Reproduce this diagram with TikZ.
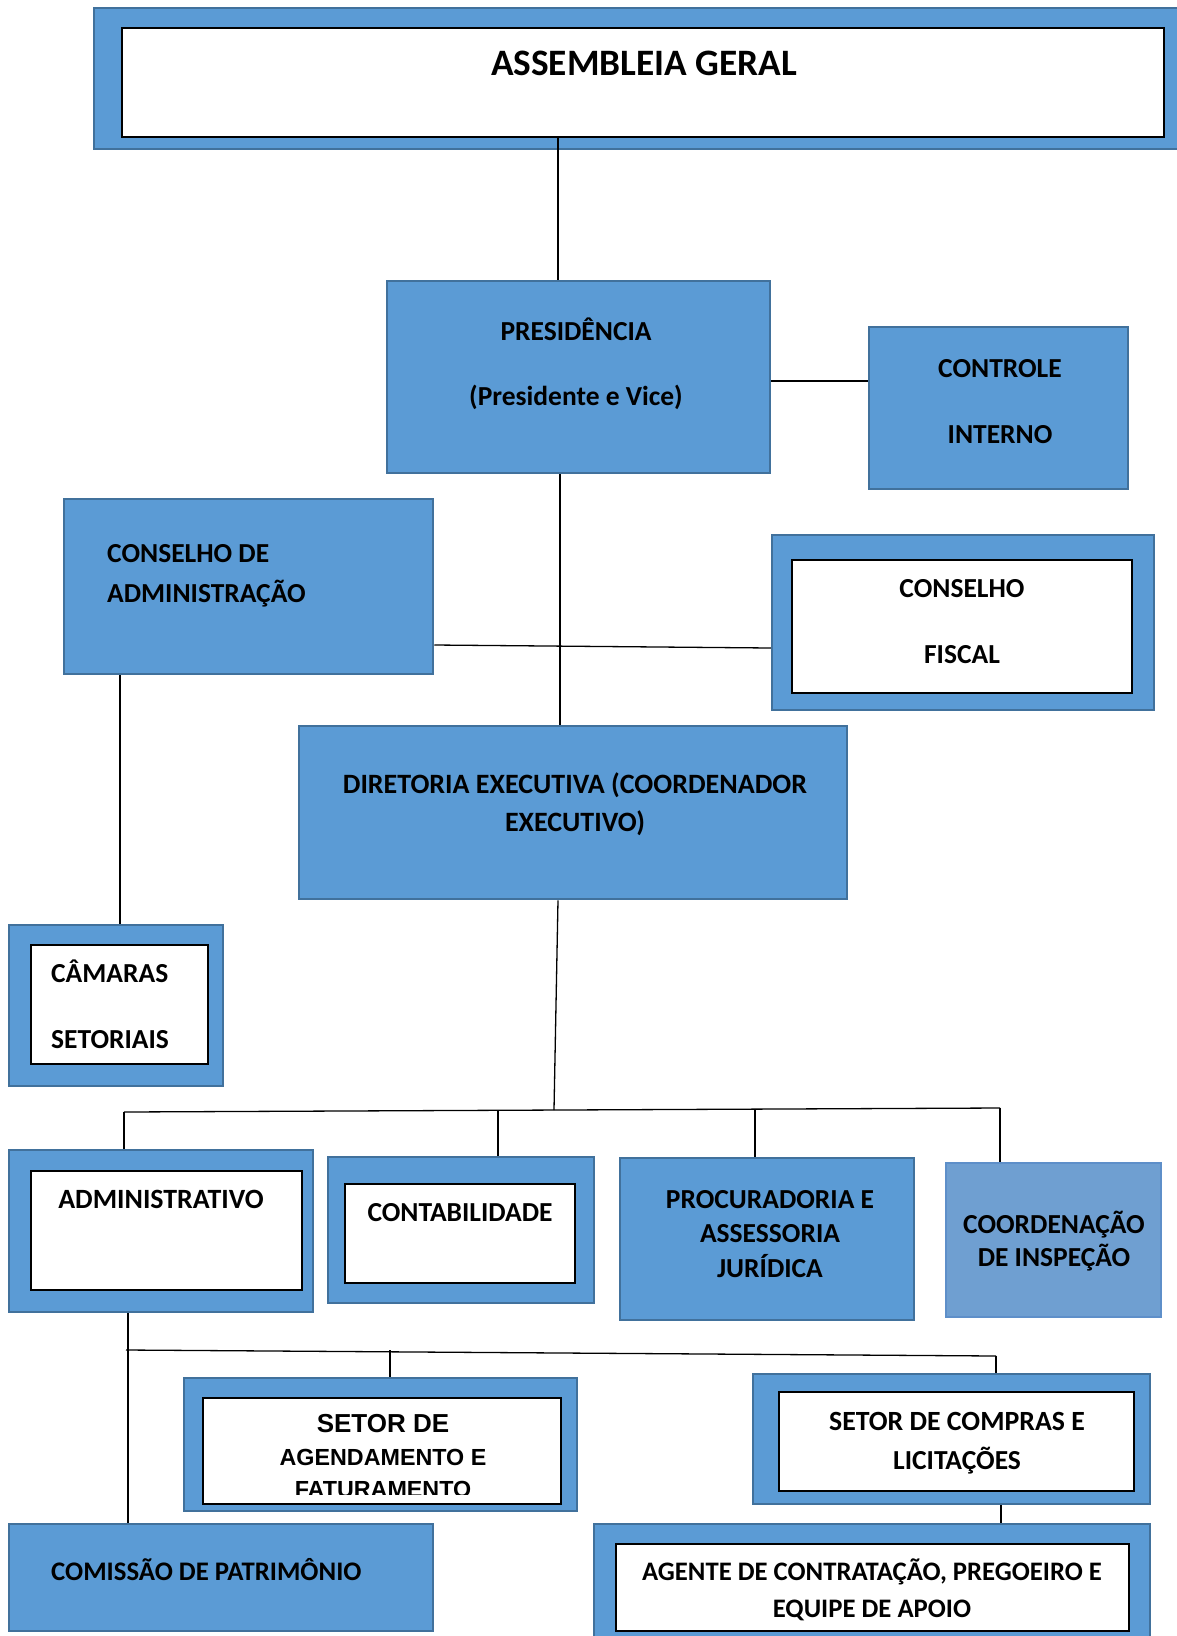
\documentclass[tikz,border=0pt]{standalone}
\usepackage{fontspec}
\setmainfont{Carlito}
\newfontfamily\arialfont{Liberation Sans}
\usetikzlibrary{fit}
\definecolor{boxblue}{HTML}{5B9BD5}
\definecolor{boxedge}{HTML}{41719C}
\definecolor{paleblue}{HTML}{6F9FD1}
\definecolor{paleedge}{HTML}{5E8FC9}
\tikzset{
  bluebox/.style={draw=boxedge, fill=boxblue, line width=2.5pt, inner sep=0pt, rectangle},
  palebox/.style={draw=paleedge, fill=paleblue, line width=1.5pt, inner sep=0pt, rectangle},
  whitebox/.style={draw=black, fill=white, line width=1.3pt, inner sep=0pt, rectangle},
  lbl/.style={font=\fontsize{27.5}{33}\selectfont\bfseries, inner sep=0pt, anchor=base},
  lbll/.style={lbl, anchor=base west},
  biglbl/.style={font=\fontsize{37.3}{44}\selectfont\bfseries, inner sep=0pt, anchor=base},
  arlbl/.style={font=\arialfont\bfseries\fontsize{23.3}{28}\selectfont, inner sep=0pt, anchor=base},
  conn/.style={draw=black, line width=1.3pt}
}
\begin{document}
\begin{tikzpicture}[x=1pt,y=-1pt]
\useasboundingbox (0,0) rectangle (1177,1636);
\clip (0,0) rectangle (1177,1636);

% ---------- boxes ----------
\node[bluebox, fit={(94,8) (1190,149)}] (ag) {};
\node[whitebox, fit={(122,28) (1164,137)}] (agin) {};

\node[bluebox, fit={(387,281) (770,473)}] (pres) {};
\node[bluebox, fit={(869,327) (1128,489)}] (ci) {};

\node[bluebox, fit={(64,499) (433,674)}] (ca) {};
\node[bluebox, fit={(772,535) (1154,710)}] (cf) {};
\node[whitebox, fit={(792,560) (1132,693)}] (cfin) {};

\node[bluebox, fit={(299,726) (847,899)}] (dir) {};

\node[bluebox, fit={(9,925) (223,1086)}] (cam) {};
\node[whitebox, fit={(31,945) (208,1064)}] (camin) {};

\node[bluebox, fit={(9,1150) (313,1312)}] (adm) {};
\node[whitebox, fit={(31,1171) (302,1290)}] (admin) {};

\node[bluebox, fit={(328,1157) (594,1303)}] (cont) {};
\node[whitebox, fit={(345,1184) (575,1283)}] (contin) {};

\node[bluebox, fit={(620,1158) (914,1320)}] (proc) {};
\node[palebox, fit={(946,1163) (1161,1317)}] (coord) {};

\node[bluebox, fit={(184,1378) (577,1511)}] (agend) {};
\node[whitebox, fit={(203,1398) (561,1504)}] (agendin) {};

\node[bluebox, fit={(753,1374) (1150,1504)}] (comp) {};
\node[whitebox, fit={(779,1392) (1134,1491)}] (compin) {};

\node[bluebox, fit={(9,1524) (433,1631)}] (com) {};

\node[bluebox, fit={(594,1524) (1150,1650)}] (agent) {};
\node[whitebox, fit={(616,1544) (1129,1631)}] (agentin) {};

% ---------- texts ----------
\node[biglbl] (t-ag) at (644,75) {ASSEMBLEIA GERAL};
\node[lbl] (t-pres1) at (576,340) {PRESIDÊNCIA};
\node[lbl] (t-pres2) at (576,405) {(Presidente e Vice)};
\node[lbl] (t-ci1) at (1000,377) {CONTROLE};
\node[lbl] (t-ci2) at (1000,443) {INTERNO};
\node[lbll] (t-ca1) at (107,562) {CONSELHO DE};
\node[lbll] (t-ca2) at (107,602) {ADMINISTRAÇÃO};
\node[lbl] (t-cf1) at (962,597) {CONSELHO};
\node[lbl] (t-cf2) at (962,663) {FISCAL};
\node[lbl, font=\fontsize{28}{33}\selectfont\bfseries] (t-dir1) at (575,793) {DIRETORIA EXECUTIVA (COORDENADOR};
\node[lbl, font=\fontsize{28}{33}\selectfont\bfseries] (t-dir2) at (575,831) {EXECUTIVO)};
\node[lbll] (t-cam1) at (51,982) {CÂMARAS};
\node[lbll] (t-cam2) at (51,1048) {SETORIAIS};
\node[lbl, font=\fontsize{27.9}{33}\selectfont\bfseries] (t-adm) at (161,1208) {ADMINISTRATIVO};
\node[lbl] (t-cont) at (460,1221) {CONTABILIDADE};
\node[lbl] (t-proc1) at (770,1208) {PROCURADORIA E};
\node[lbl] (t-proc2) at (770,1242) {ASSESSORIA};
\node[lbl] (t-proc3) at (770,1277) {JURÍDICA};
\node[lbl] (t-coord1) at (1054,1233) {COORDENAÇÃO};
\node[lbl] (t-coord2) at (1054,1266) {DE INSPEÇÃO};
\begin{scope}
  \clip (203,1398) rectangle (561,1494);
  \node[arlbl, font=\arialfont\bfseries\fontsize{26}{30}\selectfont] (t-agend1) at (383,1432) {SETOR DE};
  \node[arlbl] (t-agend2) at (383,1465) {AGENDAMENTO E};
  \node[arlbl] (t-agend3) at (383,1497) {FATURAMENTO};
\end{scope}
\node[lbl, font=\fontsize{27.8}{33}\selectfont\bfseries] (t-comp1) at (957,1430) {SETOR DE COMPRAS E};
\node[lbl] (t-comp2) at (957,1469) {LICITAÇÕES};
\node[lbll, font=\fontsize{26.8}{33}\selectfont\bfseries] (t-com) at (51,1580) {COMISSÃO DE PATRIMÔNIO};
\node[lbl, font=\fontsize{26.7}{33}\selectfont\bfseries] (t-agent1) at (872,1580) {AGENTE DE CONTRATAÇÃO, PREGOEIRO E};
\node[lbl, font=\fontsize{26.7}{33}\selectfont\bfseries] (t-agent2) at (872,1617) {EQUIPE DE APOIO};

% ---------- connectors ----------
\draw[conn] ([xshift=-20.5pt]pres.north |- agin.south) -- ([xshift=-20.5pt]pres.north);
\draw[conn] ([yshift=-4pt]pres.east) -- ([yshift=-4pt]pres.east -| ci.west);
\draw[conn] ([yshift=-58.5pt]ca.east) -- ([yshift=-25.5pt]cf.west);
\draw[conn] ([xshift=-18.5pt]pres.south) -- ([xshift=-13pt]dir.north);
\draw[conn] ([xshift=-128.5pt]ca.south) -- ([xshift=4pt]cam.north);

\coordinate (busL) at (124,1112);
\coordinate (busR) at (1000,1108);
\coordinate (busM) at (554,1110);
\draw[conn] ([xshift=-15pt]dir.south) -- (busM);
\draw[conn] (busL) -- (busR);
\draw[conn] (busL) -- ([xshift=-37pt]adm.north);
\draw[conn] ([xshift=37pt]cont.north |- busM) -- ([xshift=37pt]cont.north);
\draw[conn] ([xshift=-12pt]proc.north |- busM) -- ([xshift=-12pt]proc.north);
\draw[conn] (busR) -- ([xshift=-53.5pt]coord.north);

\coordinate (bus2L) at (126,1350);
\coordinate (bus2R) at (996,1356);
\draw[conn] ([xshift=-33pt]adm.south) -- ([xshift=-93pt]com.north);
\draw[conn] (bus2L) -- (bus2R);
\draw[conn] ([xshift=9.5pt]agend.north |- bus2L) -- ([xshift=9.5pt]agend.north);
\draw[conn] (bus2R) -- ([xshift=44.5pt]comp.north);
\draw[conn] ([xshift=49.5pt]comp.south) -- ([xshift=129pt]agent.north);
\end{tikzpicture}
\end{document}
